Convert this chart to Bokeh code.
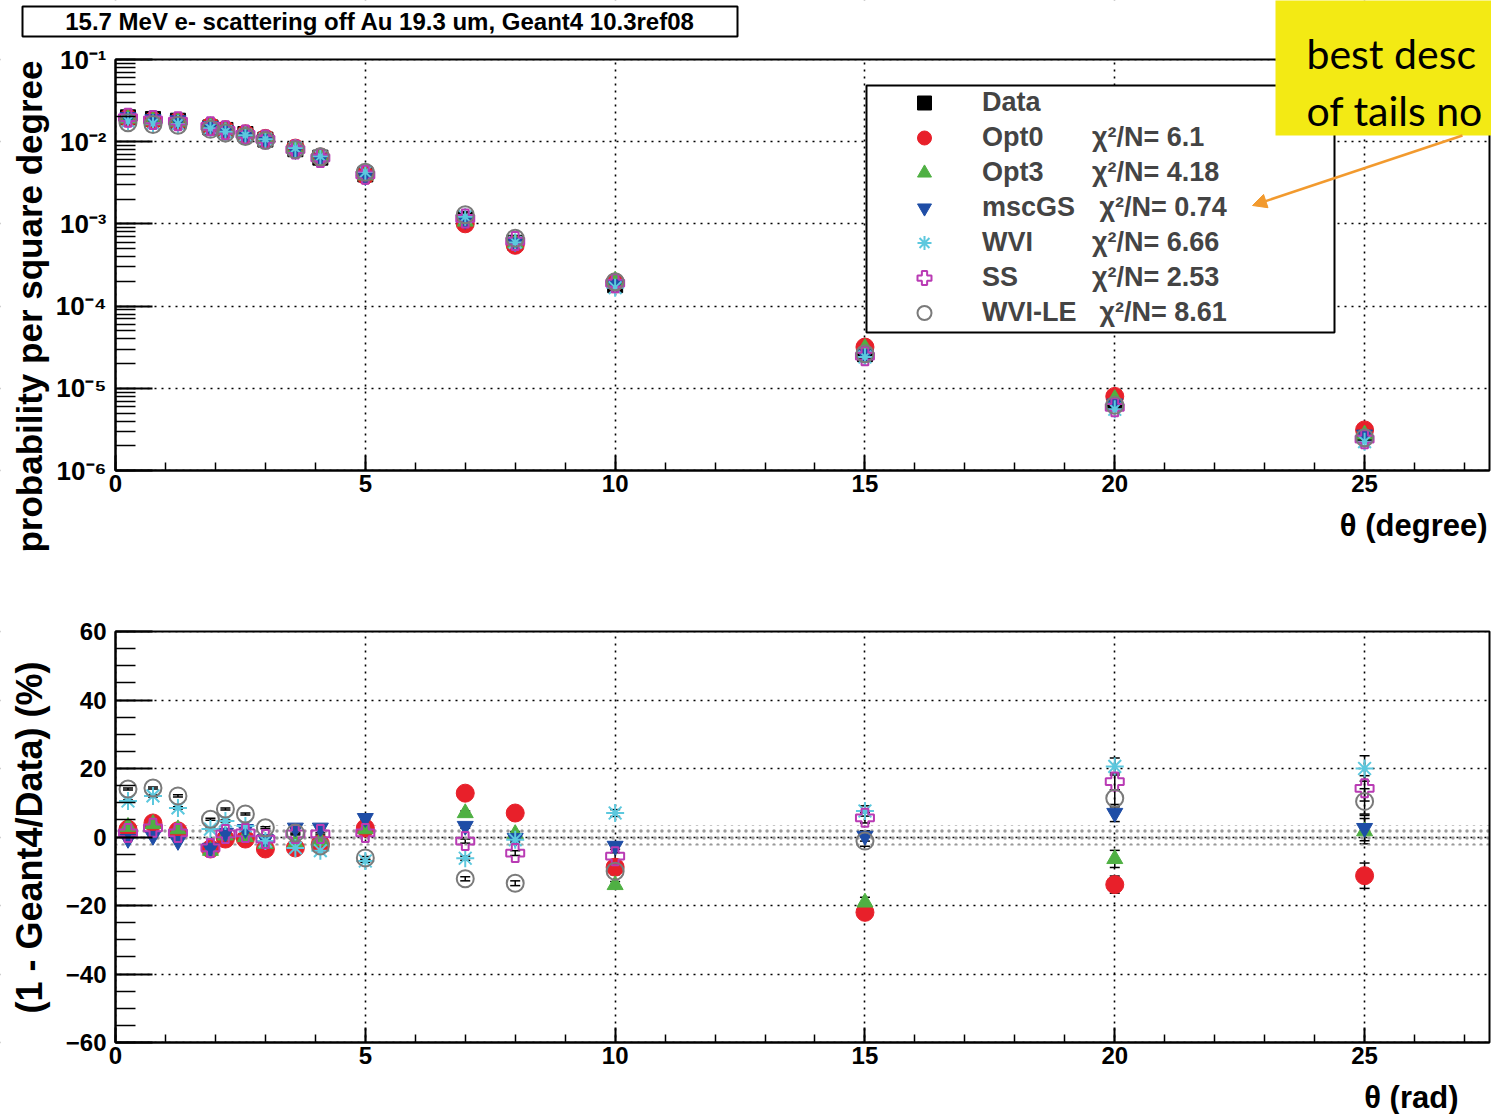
import math
from bokeh.plotting import figure
from bokeh.layouts import column
from bokeh.models import (Range1d, SingleIntervalTicker, LogTicker, CustomJSTickFormatter,
                          Legend, LegendItem, Label, BoxAnnotation, Arrow, NormalHead,
                          Whisker, TeeHead, ColumnDataSource)
from bokeh.embed import file_html
from bokeh.resources import INLINE

# ---------------- data ----------------
title_text = "15.7 MeV e- scattering off Au 19.3 um, Geant4 10.3ref08"
theta_deg = [0.25, 0.75, 1.25, 1.9, 2.2, 2.6, 3.0, 3.6, 4.1, 5, 7, 8, 10, 15, 20, 25]
data_prob = [0.0198, 0.0189, 0.0180, 0.0149, 0.0139, 0.0124, 0.0106, 0.0081, 0.0064,
             0.0040, 0.00115, 0.00059, 0.00018, 2.6e-5, 7.0e-6, 2.8e-6]
series_names = ["Opt0", "Opt3", "mscGS", "WVI", "SS", "WVI-LE"]
chi2_per_n = [6.1, 4.18, 0.74, 6.66, 2.53, 8.61]
# (1 - Geant4/Data) in %
ratio_opt0 = [2.3, 4.1, 1.8, -3.5, -0.6, -0.6, -3.5, -3.2, -2.0, 2.6, 12.8, 7.0, -8.8, -22.0, -13.9, -11.3]
ratio_opt3 = [3.0, 3.8, 2.3, -4.0, 0.5, 0.0, -2.0, -1.7, -1.2, 2.3, 7.0, 0.9, -14.0, -19.1, -6.4, 1.7]
ratio_mscgs = [-0.6, 0.3, -1.2, -3.2, 1.2, 2.3, -0.6, 2.7, 2.7, 5.5, 3.2, -0.3, -2.6, 0.3, 7.0, 2.6]
ratio_wvi = [10.5, 12.0, 8.5, 2.3, 4.7, 3.2, -1.2, -3.2, -4.0, -7.0, -6.2, -0.8, 7.0, 7.6, 20.6, 20.0]
ratio_ss = [1.2, 2.7, 1.2, -3.2, 0.9, 1.2, -0.6, 0.9, 0.9, 1.2, -1.2, -4.7, -5.6, 5.6, 16.2, 14.2]
ratio_wvile = [14.0, 14.3, 12.0, 5.2, 8.2, 6.7, 2.7, 1.2, -2.6, -6.1, -12.2, -13.5, -10.0, -1.2, 11.3, 10.4]
ratio_err = [0.3, 0.3, 0.3, 0.3, 0.3, 0.3, 0.3, 0.3, 0.3, 0.4, 0.6, 0.7, 1.0, 1.5, 2.5, 3.7]
band_x = [0, 27.5]
band_lo = [-2.5, -2.5]
band_hi = [3.5, 3.5]
ratios = [ratio_opt0, ratio_opt3, ratio_mscgs, ratio_wvi, ratio_ss, ratio_wvile]
note_lines = ["best desc", "of tails no"]
x_min, x_max = 0, 27.5
y_min_top, y_max_top = 1e-6, 1e-1
y_min_bot, y_max_bot = -60, 60

# ---------------- styles / layout ----------------
FONT = "Liberation Sans"
RED, GREEN, BLUE = "#E8202A", "#4FB043", "#1E4DA6"
CYAN, MAGENTA, GRAY = "#5CC8DE", "#B93BB4", "#7A7A7A"
ORANGE, YELLOW = "#F29A2E", "#F3EA14"
styles = [
    dict(marker="circle", size=18, fill_color=RED, line_color=RED, line_width=1),
    dict(marker="triangle", size=16, fill_color=GREEN, line_color=GREEN, line_width=1),
    dict(marker="inverted_triangle", size=16, fill_color=BLUE, line_color=BLUE, line_width=1),
    dict(marker="asterisk", size=18, fill_color=None, line_color=CYAN, line_width=2),
    dict(marker="plus", size=18, fill_color=None, line_color=MAGENTA, line_width=2),
    dict(marker="circle", size=17, fill_color=None, line_color=GRAY, line_width=2),
]

W = 1491
TOP_H, BOT_H = 575, 539
FL, FR = 115, 1489            # plot-box left/right pixel
T_TOP, T_BOT = 59, 470        # top plot box, pixels in the top canvas
B_TOP, B_BOT = 56, 467        # bottom plot box, pixels in the bottom canvas


def scr(y_px, h):
    return h - y_px


def style_axis(ax, tick_in, minor_in, size="24px"):
    ax.axis_line_color = "black"
    ax.axis_line_width = 2
    ax.major_tick_line_width = 2
    ax.minor_tick_line_width = 1.5
    ax.major_tick_line_color = "black"
    ax.minor_tick_line_color = "black"
    ax.major_tick_in, ax.major_tick_out = tick_in, 0
    ax.minor_tick_in, ax.minor_tick_out = minor_in, 0
    ax.major_label_text_font = FONT
    ax.major_label_text_font_style = "bold"
    ax.major_label_text_color = "black"
    ax.major_label_text_font_size = size


def make_panel(h, top_px, bot_px, y_lo, y_hi, log):
    ppu = (FR - FL) / (x_max - x_min)
    xr = Range1d(x_min - FL / ppu, x_max + (W - FR) / ppu)
    if log:
        ppd = (bot_px - top_px) / (math.log10(y_hi) - math.log10(y_lo))
        yr = Range1d(10 ** (math.log10(y_lo) - (h - bot_px) / ppd),
                     10 ** (math.log10(y_hi) + top_px / ppd))
    else:
        ppy = (bot_px - top_px) / (y_hi - y_lo)
        yr = Range1d(y_lo - (h - bot_px) / ppy, y_hi + top_px / ppy)
    p = figure(width=W, height=h, x_range=xr, y_range=yr,
               y_axis_type="log" if log else "linear",
               output_backend="svg", toolbar_location=None,
               min_border_left=0, min_border_right=0, min_border_top=0, min_border_bottom=0)
    p.title.visible = False
    p.outline_line_color = None
    p.background_fill_color = "white"
    p.border_fill_color = "white"
    xt = SingleIntervalTicker(interval=5, num_minor_ticks=5)
    xa = p.xaxis[0]
    xa.ticker = xt
    p.xgrid.ticker = xt
    xa.fixed_location = y_lo
    xa.bounds = (x_min, x_max)
    style_axis(xa, 15, 8)
    xa.major_label_standoff = 4
    ya = p.yaxis[0]
    ya.fixed_location = x_min
    ya.bounds = (y_lo, y_hi)
    ya.major_label_standoff = 9
    for g in (p.xgrid, p.ygrid):
        g.grid_line_color = "black"
        g.grid_line_dash = "2 5"
        g.grid_line_width = 1.6
        g.grid_line_alpha = 1
    # white covers keep grid lines inside the plot box
    for kw in (dict(right=x_min), dict(left=x_max), dict(bottom=y_hi), dict(top=y_lo)):
        p.add_layout(BoxAnnotation(fill_color="white", fill_alpha=1, line_alpha=0,
                                   level="underlay", **kw))
    return p


def frame_box(p, y_lo, y_hi):
    p.add_layout(BoxAnnotation(left=x_min, right=x_max, bottom=y_lo, top=y_hi,
                               fill_alpha=0, line_color="black", line_alpha=1, line_width=2))


def screen_box(p, h, left, right, top_px, bot_px, **kw):
    p.add_layout(BoxAnnotation(left=left, right=right, top=scr(top_px, h), bottom=scr(bot_px, h),
                               left_units="screen", right_units="screen",
                               top_units="screen", bottom_units="screen", **kw))


def text_at(p, h, x, y_px, text, **kw):
    opts = dict(text_font=FONT, text_font_style="bold", text_color="black",
                text_baseline="middle")
    opts.update(kw)
    p.add_layout(Label(x=x, y=scr(y_px, h), x_units="screen", y_units="screen", text=text, **opts))


# ---------------- top figure ----------------
p1 = make_panel(TOP_H, T_TOP, T_BOT, y_min_top, y_max_top, log=True)
yt1 = LogTicker(mantissas=[1], num_minor_ticks=10)
p1.yaxis[0].ticker = yt1
p1.ygrid.ticker = yt1
style_axis(p1.yaxis[0], 37, 20, "26px")
p1.yaxis[0].formatter = CustomJSTickFormatter(code="""
const e = Math.round(Math.log10(tick));
const sup = {'-': '⁻', '0': '⁰', '1': '¹', '2': '²', '3': '³', '4': '⁴', '5': '⁵', '6': '⁶', '7': '⁷', '8': '⁸', '9': '⁹'};
return '10' + String(e).split('').map(c => sup[c]).join('');
""")

# legend background box
screen_box(p1, TOP_H, 866, 1334, 85, 332, fill_color="white", fill_alpha=1,
           line_color="black", line_alpha=1, line_width=2, level="underlay")

items = []
r = p1.scatter(theta_deg, data_prob, marker="square", size=15, fill_color="black", line_color="black")
items.append(LegendItem(label="Data", renderers=[r]))
for name, ratio, st in zip(series_names, ratios, styles):
    mc = [d * (1 - q / 100.0) for d, q in zip(data_prob, ratio)]
    r = p1.scatter(theta_deg, mc, **st)
    items.append(LegendItem(label=name, renderers=[r]))

frame_box(p1, y_min_top, y_max_top)

leg_common = dict(orientation="vertical", padding=0, margin=0, spacing=0,
                  glyph_height=35, label_height=35, label_standoff=0,
                  label_text_font=FONT, label_text_font_style="bold",
                  label_text_font_size="27px", label_text_baseline="middle",
                  border_line_color=None, background_fill_color=None)
p1.add_layout(Legend(items=items, location=(866, scr(330, TOP_H)), glyph_width=116, **leg_common))

blank = p1.scatter(x=[], y=[], fill_alpha=0, line_alpha=0)
chi_prefix = ["", "", "\u00a0", "", "", "\u00a0"]
chi_items = [LegendItem(label=f"{pre}χ²/N= {c}", renderers=[blank])
             for pre, c in zip(chi_prefix, chi2_per_n)]
p1.add_layout(Legend(items=chi_items, location=(1092, scr(330, TOP_H)), glyph_width=0, **leg_common))

text_at(p1, TOP_H, 29, 60, "probability per square degree", angle=math.pi / 2,
        text_align="right", text_font_size="35px")
text_at(p1, TOP_H, 1487, 525, "θ (degree)", text_align="right", text_font_size="31px")

# title box
screen_box(p1, TOP_H, 22, 737, 6, 36, fill_color="white", fill_alpha=1,
           line_color="black", line_alpha=1, line_width=2)
text_at(p1, TOP_H, 379.5, 21, title_text, text_align="center", text_font_size="24px")

# note box with arrow
screen_box(p1, TOP_H, 1275, W + 20, -20, 135, fill_color=YELLOW, fill_alpha=1, line_alpha=0)
for txt, base in zip(note_lines, [53, 110]):
    text_at(p1, TOP_H, 1306, base, txt, text_font="Lato", text_font_style="normal",
            text_font_size="41px", text_baseline="alphabetic")
p1.add_layout(Arrow(end=NormalHead(size=14, fill_color=ORANGE, line_color=ORANGE),
                    x_start=1462, y_start=scr(135, TOP_H), x_end=1252, y_end=scr(205, TOP_H),
                    start_units="screen", end_units="screen",
                    line_color=ORANGE, line_width=2.5))

# ---------------- bottom figure ----------------
p2 = make_panel(BOT_H, B_TOP, B_BOT, y_min_bot, y_max_bot, log=False)
ytb = SingleIntervalTicker(interval=20, num_minor_ticks=4)
p2.yaxis[0].ticker = ytb
p2.ygrid.ticker = ytb
style_axis(p2.yaxis[0], 37, 20)
p2.yaxis[0].formatter = CustomJSTickFormatter(
    code="return tick < 0 ? '\u2212' + Math.abs(tick) : String(tick);")

p2.varea(x=band_x, y1=band_lo, y2=band_hi, fill_color=None, hatch_pattern="dot",
         hatch_color="#9a9a9a", hatch_scale=7, hatch_weight=1.5)

for name, ratio, st in zip(series_names, ratios, styles):
    src = ColumnDataSource(dict(x=theta_deg, y=ratio,
                                up=[q + e for q, e in zip(ratio, ratio_err)],
                                lo=[q - e for q, e in zip(ratio, ratio_err)]))
    p2.scatter("x", "y", source=src, **st)
    p2.add_layout(Whisker(source=src, base="x", upper="up", lower="lo", line_color="black",
                          line_width=1.5,
                          upper_head=TeeHead(size=10, line_color="black", line_width=1.5),
                          lower_head=TeeHead(size=10, line_color="black", line_width=1.5)))

frame_box(p2, y_min_bot, y_max_bot)
text_at(p2, BOT_H, 29, 837 - TOP_H, "(1 - Geant4/Data) (%)", angle=math.pi / 2,
        text_align="center", text_font_size="36px")
text_at(p2, BOT_H, 1458, 1097 - TOP_H, "θ (rad)", text_align="right", text_font_size="31px")

layout = column(p1, p2, spacing=0)
open("out.html", "w", encoding="utf-8").write(file_html(layout, INLINE))
